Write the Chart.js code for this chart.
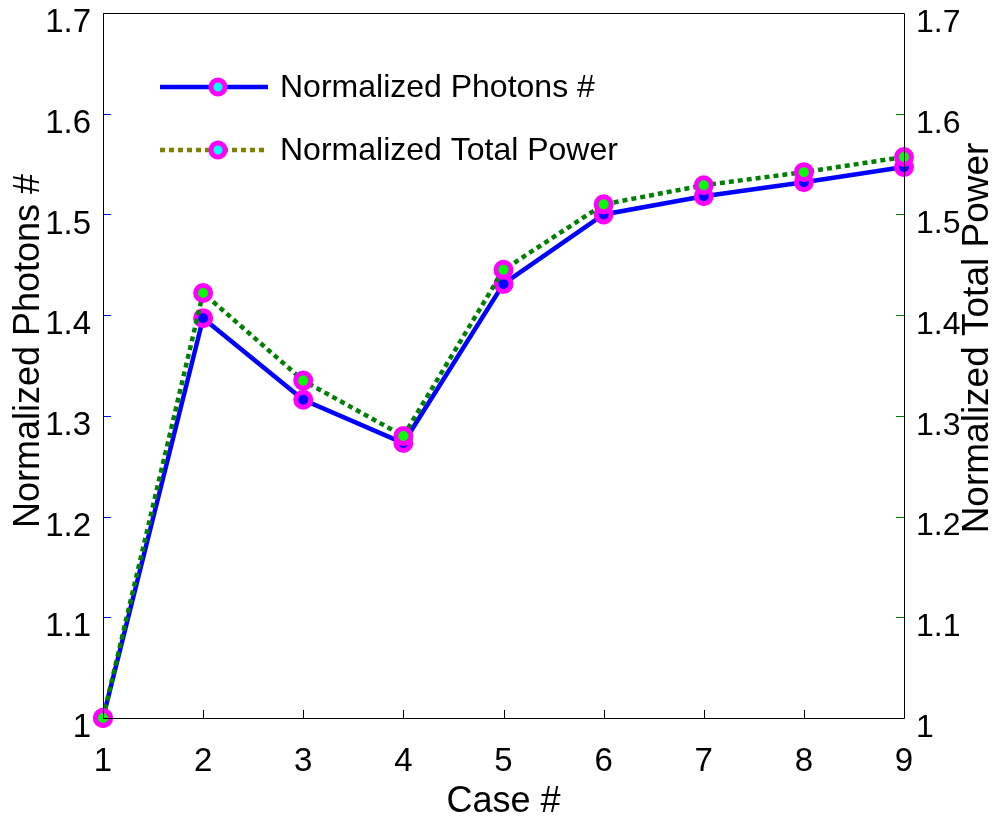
<!DOCTYPE html>
<html>
<head>
<meta charset="utf-8">
<script src="https://cdn.jsdelivr.net/npm/chart.js@4.4.0/dist/chart.umd.min.js"></script>
<style>
  body { margin: 0; background: #fff; }
</style>
</head>
<body>
<canvas id="myChart" width="995" height="823"></canvas>
<script>
// Data
const cases = [1, 2, 3, 4, 5, 6, 7, 8, 9];
const photons = [1.0, 1.397, 1.316, 1.273, 1.431, 1.500, 1.518, 1.532, 1.547];
const totalPower = [1.0, 1.422, 1.335, 1.280, 1.445, 1.510, 1.529, 1.542, 1.557];
const yTicks = [1, 1.1, 1.2, 1.3, 1.4, 1.5, 1.6, 1.7];
const yTickLabels = ["1", "1.1", "1.2", "1.3", "1.4", "1.5", "1.6", "1.7"];

const fontFamily = "'Liberation Sans', Arial, sans-serif";

const toPoints = (values) => cases.map((c, i) => ({ x: c, y: values[i] }));

const setYTicks = (scale) => {
  scale.ticks = yTicks.map(v => ({ value: v }));
};

// no extra room for half labels, plot area is fixed by hand
const noPadding = (scale) => {
  scale.paddingTop = 0;
  scale.paddingBottom = 0;
  scale.paddingLeft = 0;
  scale.paddingRight = 0;
};

// Frame, inward ticks, titles and legend
const decorations = {
  id: "decorations",
  afterDraw: (chart) => {
    const ctx = chart.ctx;
    const area = chart.chartArea;
    const x = chart.scales.x;
    const y = chart.scales.y;
    const y2 = chart.scales.y2;

    ctx.save();
    ctx.lineWidth = 1;

    // bottom ticks
    ctx.strokeStyle = "#000";
    cases.forEach(c => {
      const px = Math.round(x.getPixelForValue(c)) + 0.5;
      ctx.beginPath();
      ctx.moveTo(px, area.bottom);
      ctx.lineTo(px, area.bottom - 8);
      ctx.stroke();
    });

    // left ticks (blue), right ticks (green)
    yTicks.forEach(v => {
      const py = Math.round(y.getPixelForValue(v)) + 0.5;
      ctx.strokeStyle = "#0000ff";
      ctx.beginPath();
      ctx.moveTo(area.left, py);
      ctx.lineTo(area.left + 8, py);
      ctx.stroke();
      const py2 = Math.round(y2.getPixelForValue(v)) + 0.5;
      ctx.strokeStyle = "#008000";
      ctx.beginPath();
      ctx.moveTo(area.right, py2);
      ctx.lineTo(area.right - 8, py2);
      ctx.stroke();
    });

    // frame
    ctx.strokeStyle = "#000";
    ctx.beginPath();
    ctx.moveTo(Math.round(area.left) + 0.5, Math.round(area.top) + 0.5);
    ctx.lineTo(Math.round(area.left) + 0.5, Math.round(area.bottom) + 0.5);
    ctx.lineTo(Math.round(area.right) + 0.5, Math.round(area.bottom) + 0.5);
    ctx.lineTo(Math.round(area.right) + 0.5, Math.round(area.top) + 0.5);
    ctx.lineTo(Math.round(area.left) + 0.5, Math.round(area.top) + 0.5);
    ctx.stroke();

    // axis titles
    ctx.fillStyle = "#000";
    ctx.font = "36px " + fontFamily;
    ctx.textAlign = "center";
    ctx.textBaseline = "middle";
    ctx.fillText("Case #", (area.left + area.right) / 2, 802);

    ctx.save();
    ctx.translate(29, 351);
    ctx.rotate(-Math.PI / 2);
    ctx.fillText("Normalized Photons #", 0, 0);
    ctx.restore();

    ctx.save();
    ctx.font = "37px " + fontFamily;
    ctx.translate(978, 338);
    ctx.rotate(-Math.PI / 2);
    ctx.fillText("Normalized Total Power", 0, 0);
    ctx.restore();

    // legend
    const legendItems = [
      { text: "Normalized Photons #", color: "#0000ff", dash: [], y: 87 },
      { text: "Normalized Total Power", color: "#808000", dash: [5, 4], y: 150 }
    ];
    legendItems.forEach(item => {
      ctx.strokeStyle = item.color;
      ctx.lineWidth = 4.5;
      ctx.setLineDash(item.dash);
      ctx.beginPath();
      ctx.moveTo(160, item.y);
      ctx.lineTo(268, item.y);
      ctx.stroke();
      ctx.setLineDash([]);
      ctx.beginPath();
      ctx.arc(218, item.y, 7, 0, Math.PI * 2);
      ctx.fillStyle = "#00ffff";
      ctx.fill();
      ctx.lineWidth = 5;
      ctx.strokeStyle = "#ff00ff";
      ctx.stroke();
      ctx.fillStyle = "#000";
      ctx.font = "32px " + fontFamily;
      ctx.textAlign = "left";
      ctx.fillText(item.text, 280, item.y + 1);
    });

    ctx.restore();
  }
};

const ctx = document.getElementById("myChart").getContext("2d");
const myChart = new Chart(ctx, {
  type: "line",
  data: {
    datasets: [
      {
        label: "Normalized Total Power",
        data: toPoints(totalPower),
        yAxisID: "y2",
        borderColor: "#008000",
        borderWidth: 4.5,
        borderDash: [5, 4],
        pointRadius: 7.5,
        pointBorderWidth: 5,
        pointBorderColor: "#ff00ff",
        pointBackgroundColor: "#00ff00",
        clip: false,
        order: 0
      },
      {
        label: "Normalized Photons #",
        data: toPoints(photons),
        yAxisID: "y",
        borderColor: "#0000ff",
        borderWidth: 4.5,
        pointRadius: 7.5,
        pointBorderWidth: 5,
        pointBorderColor: "#ff00ff",
        pointBackgroundColor: "#0000ff",
        clip: false,
        order: 1
      }
    ]
  },
  options: {
    responsive: false,
    animation: false,
    layout: { padding: { top: 13, left: 0, right: 0, bottom: 0 } },
    plugins: {
      legend: { display: false },
      tooltip: { enabled: false }
    },
    scales: {
      x: {
        type: "linear",
        min: 1,
        max: 9,
        afterBuildTicks: (scale) => { scale.ticks = cases.map(c => ({ value: c })); },
        afterFit: (scale) => { scale.height = 105; noPadding(scale); },
        grid: { display: false },
        border: { display: false },
        ticks: {
          color: "#000",
          padding: 16,
          font: { family: fontFamily, size: 33 },
          maxRotation: 0
        }
      },
      y: {
        position: "left",
        min: 1,
        max: 1.7,
        afterBuildTicks: setYTicks,
        afterFit: (scale) => { scale.width = 103; noPadding(scale); },
        grid: { display: false },
        border: { display: false },
        ticks: {
          color: "#000",
          padding: 4,
          labelOffset: 10,
          font: { family: fontFamily, size: 33 },
          callback: (value, i) => yTickLabels[i]
        }
      },
      y2: {
        position: "right",
        min: 1,
        max: 1.7,
        afterBuildTicks: setYTicks,
        afterFit: (scale) => { scale.width = 91; noPadding(scale); },
        grid: { display: false },
        border: { display: false },
        ticks: {
          color: "#000",
          padding: 4,
          labelOffset: 10,
          font: { family: fontFamily, size: 32 },
          callback: (value, i) => yTickLabels[i]
        }
      }
    }
  },
  plugins: [decorations]
});
</script>
</body>
</html>
